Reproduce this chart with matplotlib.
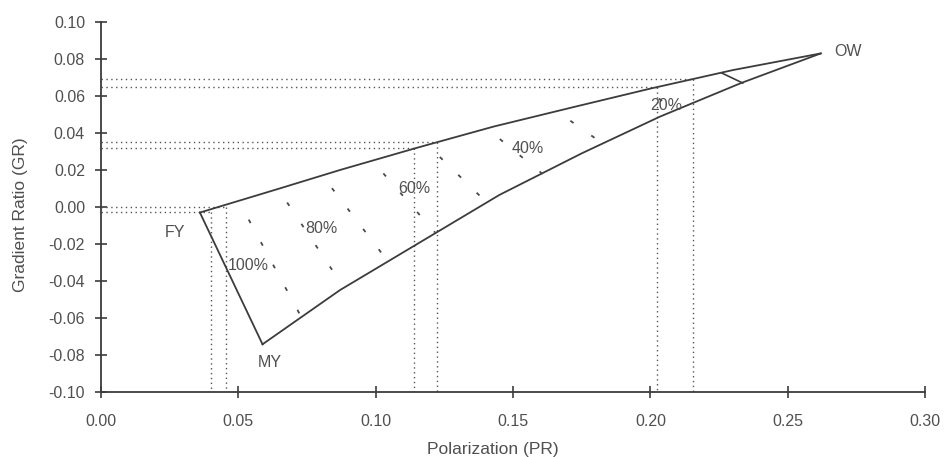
import numpy as np
import matplotlib
matplotlib.use("Agg")
from matplotlib import pyplot as plt

plt.rcParams['font.family'] = ['Liberation Sans', 'DejaVu Sans']

# upper boundary curve FY -> OW
upper_x = [0.036, 0.065, 0.087, 0.115, 0.143, 0.172, 0.200, 0.230, 0.262]
upper_y = [-0.003, 0.010, 0.020, 0.032, 0.0435, 0.054, 0.064, 0.074, 0.083]
# lower boundary curve MY -> OW
lower_x = [0.0588, 0.087, 0.116, 0.145, 0.175, 0.2034, 0.233, 0.262]
lower_y = [-0.0742, -0.0449, -0.0192, 0.0065, 0.029, 0.0488, 0.067, 0.083]
# straight edge FY -> MY
edge_x = [0.036, 0.0588]
edge_y = [-0.003, -0.0742]

# iso lines (start on upper curve, end on lower curve)
iso_x0 = [0.0509, 0.0644, 0.0804, 0.0988, 0.1190, 0.1405, 0.1659, 0.1980]
iso_y0 = [0.0011, 0.0099, 0.0173, 0.0249, 0.0333, 0.0424, 0.0518, 0.0635]
iso_x1 = [0.0731, 0.0884, 0.1044, 0.1218, 0.1405, 0.1608, 0.1830, 0.2095]
iso_y1 = [-0.0600, -0.0435, -0.0293, -0.0141, 0.0023, 0.0178, 0.0339, 0.0523]
# 10 % line, drawn solid
ten_x = [0.226, 0.2336]
ten_y = [0.0724, 0.067]

pct_labels = ["100%", "80%", "60%", "40%", "20%"]
pct_x = [0.0462, 0.0742, 0.1081, 0.1496, 0.1998]
pct_y = [-0.0314, -0.0115, 0.0101, 0.0317, 0.0551]

end_labels = ["FY", "MY", "OW"]
end_x = [0.0269, 0.0613, 0.2671]
end_y = [-0.0139, -0.0843, 0.0839]

# dotted read-off guides
guide_x = [0.040, 0.0455, 0.1139, 0.1223, 0.2025, 0.2154]
guide_y = [-0.0025, 0.000, 0.032, 0.035, 0.065, 0.069]

xticks = [0.00, 0.05, 0.10, 0.15, 0.20, 0.25, 0.30]
yticks = [-0.10, -0.08, -0.06, -0.04, -0.02, 0.00, 0.02, 0.04, 0.06, 0.08, 0.10]

line_c = "#3c3c3c"
text_c = "#505050"

fig = plt.figure(figsize=(9.44, 4.57), dpi=100)
ax = fig.add_axes([0.107, 0.1422, 0.873, 0.8097])

# guides
for gx, gy in zip(guide_x, guide_y):
    ax.plot([0, gx], [gy, gy], color="#555555", lw=1, ls=(0, (1, 2.5)))
    ax.plot([gx, gx], [gy, -0.10], color="#555555", lw=1, ls=(0, (1, 2.5)))

# boundaries
ax.plot(upper_x, upper_y, color=line_c, lw=1.3)
ax.plot(lower_x, lower_y, color=line_c, lw=1.3)
ax.plot(edge_x, edge_y, color=line_c, lw=1.3)
ax.plot(ten_x, ten_y, color=line_c, lw=1.2)

for a, b, c, d in zip(iso_x0, iso_y0, iso_x1, iso_y1):
    ax.plot([a, c], [b, d], color="#4a4a4a", lw=1.3, ls=(5, (2.2, 12)))

for t, x, y in zip(pct_labels, pct_x, pct_y):
    ax.text(x, y, t, color=text_c, fontsize=11.5, ha="left", va="center")

ax.text(end_x[0], end_y[0], end_labels[0], color=text_c, fontsize=11.5, ha="center", va="center")
ax.text(end_x[1], end_y[1], end_labels[1], color=text_c, fontsize=11.5, ha="center", va="center")
ax.text(end_x[2], end_y[2], end_labels[2], color=text_c, fontsize=11.5, ha="left", va="center")

ax.set_xlim(0, 0.30)
ax.set_ylim(-0.10, 0.10)
ax.set_xticks(xticks)
ax.set_yticks(yticks)
ax.set_xticklabels([f"{v:.2f}" for v in xticks])
ax.set_yticklabels([f"{v:.2f}" for v in yticks])
ax.spines["top"].set_visible(False)
ax.spines["right"].set_visible(False)
for s in ["left", "bottom"]:
    ax.spines[s].set_color(line_c)
    ax.spines[s].set_linewidth(1.3)
ax.tick_params(axis="x", direction="inout", length=9, width=1.2, color=line_c,
               labelcolor=text_c, labelsize=11.5, pad=11)
ax.tick_params(axis="y", direction="inout", length=9, width=1.2, color=line_c,
               labelcolor=text_c, labelsize=11.5, pad=7)
ax.set_xlabel("Polarization (PR)", color=text_c, fontsize=12.5)
ax.set_ylabel("Gradient Ratio (GR)", color=text_c, fontsize=12.5)
ax.xaxis.set_label_coords(0.475, -0.135)
ax.yaxis.set_label_coords(-0.088, 0.48)

fig.savefig("out.png", dpi=100)
